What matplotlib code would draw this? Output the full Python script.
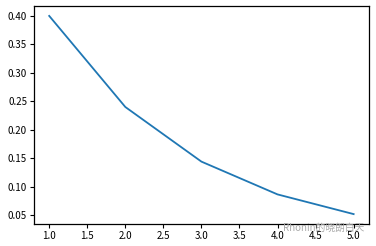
import matplotlib
matplotlib.use("Agg")
import matplotlib.pyplot as plt

plt.rcParams['font.family'] = ['Noto Sans CJK SC', 'DejaVu Sans']
plt.rcParams['axes.unicode_minus'] = False

# values
epochs = [1, 2, 3, 4, 5]
values = [0.40, 0.24, 0.144, 0.0864, 0.0518]

fig = plt.figure(figsize=(3.76, 2.46), dpi=100)
ax = fig.add_axes([0.0904, 0.0894, 0.8906, 0.8862])
ax.plot(epochs, values, color='#1f77b4', linewidth=1.3)

ax.set_yticks([0.05, 0.10, 0.15, 0.20, 0.25, 0.30, 0.35, 0.40])
ax.set_xticks([1.0, 1.5, 2.0, 2.5, 3.0, 3.5, 4.0, 4.5, 5.0])
ax.tick_params(labelsize=7, length=3, width=0.8, pad=2)
for s in ax.spines.values():
    s.set_linewidth(0.9)

# watermark
fig.text(0.752, 0.072, 'Rhonin的晓朗白天', fontsize=7, color='#aaaaaa',
         ha='left', va='center')

fig.savefig('out.png', dpi=100)
